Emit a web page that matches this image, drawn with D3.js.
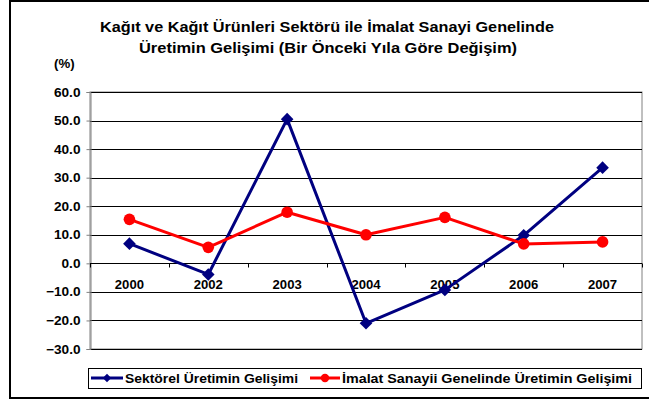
<!DOCTYPE html>
<html><head><meta charset="utf-8">
<script src="https://cdn.jsdelivr.net/npm/d3@7"></script>
<style>
body{margin:0;background:#fff}
svg{display:block}
text{font-family:"Liberation Sans",Arial,sans-serif;font-weight:bold;fill:#000}
</style>
</head><body>
<script>
const categories = ["2000","2002","2003","2004","2005","2006","2007"];
const sektorel = [6.9, -3.9, 50.5, -21.0, -9.3, 9.8, 33.5];
const imalat = [15.4, 5.6, 17.9, 10.0, 16.1, 6.8, 7.5];
const yTicks = [60, 50, 40, 30, 20, 10, 0, -10, -20, -30];
const titleLines = ["Kağıt ve Kağıt Ürünleri Sektörü ile İmalat Sanayi Genelinde",
                    "Üretimin Gelişimi (Bir Önceki Yıla Göre Değişim)"];
const seriesNames = ["Sektörel Üretimin Gelişimi", "İmalat Sanayii Genelinde Üretimin Gelişimi"];
const unitLabel = "(%)";

const W = 649, H = 401;
const svg = d3.select("body").append("svg").attr("width", W).attr("height", H);

function stretch(sel, k) {
  sel.each(function () {
    const w = this.getComputedTextLength();
    this.setAttribute("textLength", w * k);
    this.setAttribute("lengthAdjust", "spacingAndGlyphs");
  });
}

// outer frame
svg.append("rect").attr("x", 10).attr("y", 1).attr("width", 700).attr("height", 397)
  .attr("fill", "#fff").attr("stroke", "#000").attr("stroke-width", 2);

// title
svg.append("text").attr("x", 327).attr("y", 31.5).attr("text-anchor", "middle")
  .style("font-size", "14.5px").text(titleLines[0])
  .attr("textLength", 454).attr("lengthAdjust", "spacingAndGlyphs");
svg.append("text").attr("x", 328).attr("y", 52.5).attr("text-anchor", "middle")
  .style("font-size", "14.5px").text(titleLines[1])
  .attr("textLength", 378).attr("lengthAdjust", "spacingAndGlyphs");

const L = 90, R = 642, T = 92, B = 349;
const x = d3.scaleBand().domain(categories).range([L, R]).padding(0);
const cx = d => x(d) + x.bandwidth() / 2;
const y = d3.scaleLinear().domain([-30, 60]).range([B, T]);

// plot area
svg.append("rect").attr("x", L).attr("y", T).attr("width", R - L).attr("height", B - T)
  .attr("fill", "#fff").attr("stroke", "#808080").attr("stroke-width", 1);

// gridlines
svg.append("g").selectAll("line").data(yTicks).join("line")
  .attr("x1", L).attr("x2", R)
  .attr("y1", d => Math.round(y(d)) + 0.5).attr("y2", d => Math.round(y(d)) + 0.5)
  .attr("stroke", "#000").attr("stroke-width", 1);

// y axis
const yAxis = svg.append("g").attr("transform", `translate(${L + 0.5},0)`)
  .call(d3.axisLeft(y).tickValues(yTicks).tickSize(4).tickPadding(6).tickFormat(d3.format(".1f")));
yAxis.select(".domain").attr("stroke", "#808080");
yAxis.selectAll(".tick line").attr("stroke", "#808080");
yAxis.selectAll(".tick text").style("font-size", "12.5px").attr("fill", "#000")
  .style("font-family", '"Liberation Sans",Arial,sans-serif').style("font-weight", "bold");
stretch(yAxis.selectAll(".tick text"), 1.09);

// unit label
const ul = svg.append("text").attr("x", 54).attr("y", 68).style("font-size", "12px").text(unitLabel);
stretch(ul, 1.1);

// x axis at zero
const y0 = Math.round(y(0)) + 0.5;
const bounds = categories.map(c => x(c)).concat([R]);
svg.append("g").selectAll("line").data(bounds).join("line")
  .attr("x1", d => Math.round(d) + 0.5).attr("x2", d => Math.round(d) + 0.5)
  .attr("y1", y0).attr("y2", y0 + 4).attr("stroke", "#000");
svg.append("line").attr("x1", L).attr("x2", R).attr("y1", y0).attr("y2", y0).attr("stroke", "#000");
const xl = svg.append("g").selectAll("text").data(categories).join("text")
  .attr("x", d => cx(d)).attr("y", 288.5).attr("text-anchor", "middle")
  .style("font-size", "12.5px").text(d => d);
stretch(xl, 1.05);

// series
const line = d3.line().x((d, i) => cx(categories[i])).y(d => y(d));
const navy = "#000080", red = "#ff0000";
svg.append("path").datum(sektorel).attr("d", line).attr("fill", "none")
  .attr("stroke", navy).attr("stroke-width", 3).attr("stroke-linejoin", "round");
svg.append("path").datum(imalat).attr("d", line).attr("fill", "none")
  .attr("stroke", red).attr("stroke-width", 3).attr("stroke-linejoin", "round");

const diamond = s => `M0,${-s}L${s},0L0,${s}L${-s},0Z`;
svg.append("g").selectAll("path").data(sektorel).join("path")
  .attr("transform", (d, i) => `translate(${cx(categories[i])},${y(d)})`)
  .attr("d", diamond(6.3)).attr("fill", navy);
svg.append("g").selectAll("circle").data(imalat).join("circle")
  .attr("cx", (d, i) => cx(categories[i])).attr("cy", d => y(d)).attr("r", 5.8).attr("fill", red);

// legend
svg.append("rect").attr("x", 88.5).attr("y", 368.5).attr("width", 553).attr("height", 20)
  .attr("fill", "#fff").attr("stroke", "#000").attr("stroke-width", 1);
const leg = [
  {x1: 91, x2: 123, mx: 107, tx: 125, w: 173, color: navy, shape: "d"},
  {x1: 310, x2: 340, mx: 325, tx: 342, w: 290, color: red, shape: "c"}
];
leg.forEach((l, i) => {
  svg.append("line").attr("x1", l.x1).attr("x2", l.x2).attr("y1", 378).attr("y2", 378)
    .attr("stroke", l.color).attr("stroke-width", 3);
  if (l.shape === "d") {
    svg.append("path").attr("transform", `translate(${l.mx},378)`).attr("d", diamond(4.2)).attr("fill", l.color);
  } else {
    svg.append("circle").attr("cx", l.mx).attr("cy", 378).attr("r", 4.2).attr("fill", l.color);
  }
  svg.append("text").attr("x", l.tx).attr("y", 382.5).style("font-size", "12.5px").text(seriesNames[i])
    .attr("textLength", l.w).attr("lengthAdjust", "spacingAndGlyphs");
});
</script>
</body></html>
